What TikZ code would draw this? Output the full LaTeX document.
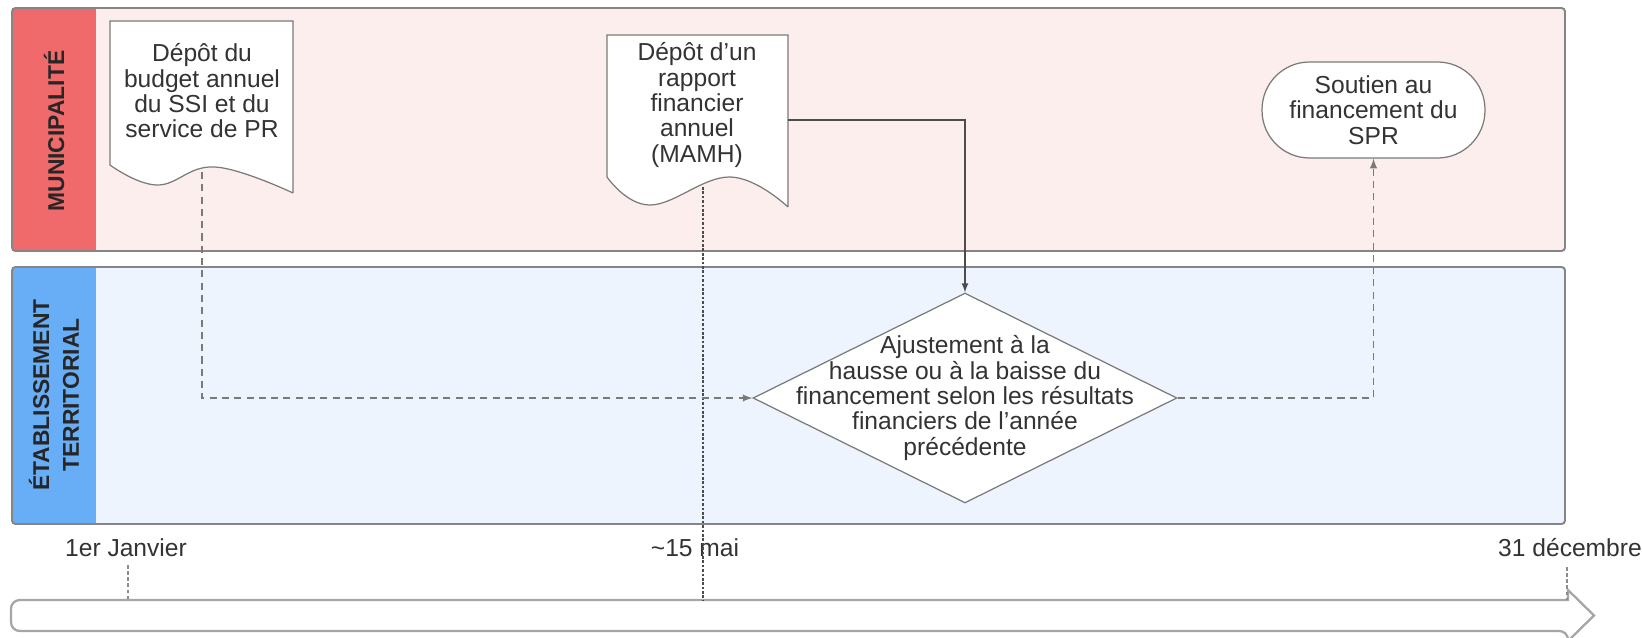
\documentclass[tikz,border=0pt]{standalone}
\usepackage{fontspec}
\setmainfont{Liberation Sans}
\usetikzlibrary{shapes.geometric}

\definecolor{lanepink}{HTML}{FDEEEE}
\definecolor{hdrred}{HTML}{F06A6C}
\definecolor{laneblue}{HTML}{EDF4FE}
\definecolor{hdrblue}{HTML}{68AEF6}
\definecolor{lanegray}{HTML}{858585}
\definecolor{txtgray}{HTML}{333333}
\definecolor{linegray}{HTML}{7A7A7A}

\begin{document}
\begin{tikzpicture}[x=0.02cm,y=-0.02cm]
    \tikzstyle{every node}+=[inner sep=0pt, text=txtgray, font=\fontsize{14}{14.4}\selectfont]
    \tikzstyle{lanetitle}=[rotate=90, align=center, text=black!85, font=\bfseries\fontsize{13}{17}\selectfont]
    \tikzstyle{lanebox}=[draw=lanegray, line width=1.1pt, rounded corners=2pt]
    \tikzstyle{docline}=[draw=linegray, line width=0.7pt, fill=white]
    \tikzstyle{doctext}=[align=center]
    \tikzstyle{dashline}=[draw=linegray, line width=0.9pt, dash pattern=on 4pt off 3pt, ->, >=latex]
    \tikzstyle{solidline}=[draw=black!70, line width=0.8pt, ->, >=latex]
    \tikzstyle{dotline}=[draw=black!70, line width=0.7pt, dash pattern=on 1.5pt off 1pt]
    \tikzstyle{tickline}=[draw=black!45, line width=0.6pt, dash pattern=on 2pt off 1.5pt]
    \useasboundingbox (0,0) rectangle (1642,638);
    % swimlanes
    \fill [lanepink, rounded corners=2pt] (12,8) rectangle (1565,251);
    \fill [hdrred] (12,8) rectangle (96,251);
    \draw [lanebox] (12,8) rectangle (1565,251);
    \node [lanetitle] (muni) at (54,131) {MUNICIPALITÉ};
    \fill [laneblue, rounded corners=2pt] (12,267) rectangle (1565,524);
    \fill [hdrblue] (12,267) rectangle (96,524);
    \draw [lanebox] (12,267) rectangle (1565,524);
    \node [lanetitle] (etab) at (54,395) {ÉTABLISSEMENT\\TERRITORIAL};
    % timeline
    \draw [draw=black!35, line width=1.3pt, fill=white] (1568,600) [rounded corners=5pt] -- (11,600) -- (11,631) -- (1568,631) [sharp corners] -- (1568,641) -- (1594,615.5) -- (1568,590) -- cycle;
    \coordinate (bar-jan) at (128,600);
    \coordinate (bar-mai) at (703,600);
    \coordinate (bar-dec) at (1567,600);
    \node (jan) at (126,548) {1er Janvier};
    \node (mai) at (695,548) {\textasciitilde15 mai};
    \node (dec) at (1570,548) {31 décembre};
    \draw [tickline] (128,565) -- (bar-jan);
    \draw [tickline] (1567,567) -- (bar-dec);
    % documents
    \draw [docline] (293,193) -- (293,21) -- (110,21) -- (110,165) -- plot [smooth, tension=0.7] coordinates {(110,165) (157,185) (215,167) (293,193)};
    \node [doctext] (doc1) at (202,91) {Dépôt du\\budget annuel\\du SSI et du\\service de PR};
    \coordinate (doc1-b) at (202,172);
    \draw [docline] (788,207) -- (788,35) -- (607,35) -- (607,177) -- plot [smooth, tension=0.7] coordinates {(607,177) (650,205) (730,177) (788,207)};
    \node [doctext] (doc2) at (697,105) {Dépôt d'un\\rapport\\financier\\annuel\\(MAMH)};
    \coordinate (doc2-r) at (788,120);
    \coordinate (doc2-b) at (703,187);
    \draw [dotline] (doc2-b) -- (bar-mai);
    % decision and end
    \node [diamond, draw=linegray, line width=0.7pt, fill=white, minimum width=8.48cm, minimum height=4.2cm] (adj) at (965,398) {};
    \node [doctext] (adj-txt) at (adj) {Ajustement à la\\hausse ou à la baisse du\\financement selon les résultats\\financiers de l'année\\précédente};
    \node [draw=linegray, line width=0.7pt, fill=white, rounded corners=0.95cm, minimum width=4.46cm, minimum height=1.92cm, align=center] (term) at (1373.5,110) {Soutien au\\financement du\\SPR};
    % flows
    \draw [dashline] (doc1-b) |- (adj.west);
    \draw [solidline] (doc2-r) -| (adj.north);
    \draw [dashline] (adj.east) -| (term.south);
\end{tikzpicture}
\end{document}
